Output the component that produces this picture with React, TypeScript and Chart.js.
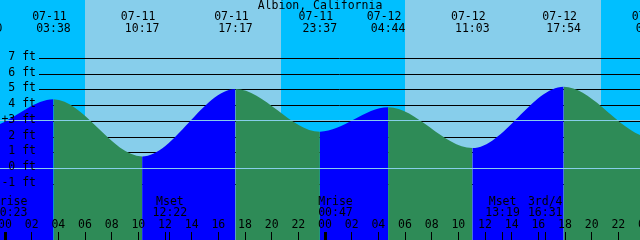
import React, { useEffect, useRef } from "react";
import { Chart, registerables } from "chart.js";

Chart.register(...registerables);

// ---- data ----
const TITLE = "Albion, California";

// tide extremes (date, time, height in ft)
const tideDates = ["07-10", "07-10", "07-11", "07-11", "07-11", "07-11", "07-12", "07-12", "07-12", "07-13", "07-13"];
const tideTimes = ["16:40", "22:30", "03:38", "10:17", "17:17", "23:37", "04:44", "11:03", "17:54", "00:36", "05:50"];
const tideHeights = [5.0, 2.61, 4.4, 0.77, 5.06, 2.34, 3.89, 1.3, 5.21, 1.95, 3.6];

// sun
const sunDates = ["07-11", "07-12"];
const sunrises = ["06:00", "06:00"];
const sunsets = ["20:42", "20:42"];

// moon events
const eventDates = ["07-11", "07-11", "07-12", "07-12", "07-12"];
const eventTimes = ["00:23", "12:22", "00:47", "13:19", "16:31"];
const eventNames = ["Mrise", "Mset", "Mrise", "Mset", "3rd/4"];
const eventTicks = [false, true, false, true, true];

// axis ticks
const ftTicks = [-1, 0, 1, 2, 3, 4, 5, 6, 7];
const ftTickLabels = ["-1 ft", "0 ft", "1 ft", "2 ft", "+3 ft", "4 ft", "5 ft", "6 ft", "7 ft"];
const hourTickHours = [0, 2, 4, 6, 8, 10, 12, 14, 16, 18, 20, 22];
const hourTickLabels = ["00", "02", "04", "06", "08", "10", "12", "14", "16", "18", "20", "22"];
const tickDays = [0, 1, 2];

const MSL = 3.05;
const DATUM = 0;

// view window (hours since 07-11 00:00) and ft range
const X_MIN = -0.375;
const X_MAX = 47.625;
const Y_MIN = -4.55;
const Y_MAX = 10.723;

// colours
const NIGHT = "#00bfff";
const DAY = "#87ceeb";
const RISING = "#0000ff";
const FALLING = "#2e8b57";
const LIGHT_LINE = "#87ceeb";

const toHours = (date: string, time: string) => {
  const day = parseInt(date.slice(3), 10) - 11;
  const [h, m] = time.split(":").map(Number);
  return day * 24 + h + m / 60;
};

export default function App() {
  const ref = useRef<HTMLCanvasElement>(null);

  useEffect(() => {
    document.body.style.margin = "0";
    const canvas = ref.current!;
    const FONT = '11.5px "DejaVu Sans Mono", monospace';
    const points = tideDates.map((d, i) => ({ x: toHours(d, tideTimes[i]), y: tideHeights[i] }));

    const decor = {
      id: "tideDecor",
      beforeDraw(chart: any) {
        const { ctx } = chart;
        const x = chart.scales.x;
        const y = chart.scales.y;
        ctx.save();
        ctx.fillStyle = NIGHT;
        ctx.fillRect(0, 0, chart.width, chart.height);
        ctx.fillStyle = DAY;
        sunDates.forEach((d, i) => {
          const x0 = Math.round(x.getPixelForValue(toHours(d, sunrises[i])));
          const x1 = Math.round(x.getPixelForValue(toHours(d, sunsets[i])));
          ctx.fillRect(x0, 0, x1 - x0, chart.height);
        });
        ctx.strokeStyle = "#000";
        ctx.lineWidth = 1;
        ftTicks.forEach((v) => {
          const py = Math.round(y.getPixelForValue(v) - 0.5) + 0.5;
          ctx.beginPath();
          ctx.moveTo(39, py);
          ctx.lineTo(chart.width, py);
          ctx.stroke();
        });
        ctx.restore();
      },
      afterDatasetsDraw(chart: any) {
        const { ctx } = chart;
        const x = chart.scales.x;
        const y = chart.scales.y;
        ctx.save();
        // MSL & datum lines
        ctx.strokeStyle = LIGHT_LINE;
        ctx.lineWidth = 1;
        [MSL, DATUM].forEach((v) => {
          const py = Math.round(y.getPixelForValue(v) - 0.5) + 0.5;
          ctx.beginPath();
          ctx.moveTo(0, py);
          ctx.lineTo(chart.width, py);
          ctx.stroke();
        });

        ctx.fillStyle = "#000";
        ctx.font = FONT;
        ctx.textBaseline = "middle";

        // title
        ctx.textAlign = "center";
        ctx.fillText(TITLE, 320, 6);

        // tide extreme labels
        tideDates.forEach((d, i) => {
          const px = x.getPixelForValue(toHours(d, tideTimes[i]));
          ctx.fillText(d, px - 4, 17.5);
          ctx.fillText(tideTimes[i], px, 29);
        });

        // ft labels
        ctx.textAlign = "right";
        ftTicks.forEach((v, i) => {
          const py = y.getPixelForValue(v);
          ctx.fillText(ftTickLabels[i], 36, py - 1.5);
        });

        // moon events
        ctx.textAlign = "center";
        eventDates.forEach((d, i) => {
          const px = x.getPixelForValue(toHours(d, eventTimes[i]));
          ctx.fillText(eventNames[i], px, 202);
          ctx.fillText(eventTimes[i], px, 213.5);
          if (eventTicks[i]) {
            ctx.fillRect(Math.floor(px), 232, 1, 8);
          }
        });

        // hour ticks
        tickDays.forEach((day) => {
          hourTickHours.forEach((h, j) => {
            const hh = day * 24 + h;
            const px = x.getPixelForValue(hh);
            ctx.fillText(hourTickLabels[j], px, 225);
            if (h === 0) {
              ctx.fillRect(Math.floor(px) - 1, 232, 3, 8);
            } else {
              ctx.fillRect(Math.floor(px), 232, 1, 8);
            }
          });
        });
        ctx.restore();
      },
    };

    const chart = new Chart(canvas, {
      type: "line",
      data: {
        datasets: [
          {
            data: points,
            fill: "start",
            borderWidth: 0,
            borderColor: "rgba(0,0,0,0)",
            backgroundColor: FALLING,
            pointRadius: 0,
            cubicInterpolationMode: "monotone",
            segment: {
              backgroundColor: (c: any) => (c.p1.parsed.y > c.p0.parsed.y ? RISING : FALLING),
            },
          },
        ],
      },
      options: {
        responsive: false,
        animation: false,
        layout: { padding: 0 },
        scales: {
          x: { type: "linear", min: X_MIN, max: X_MAX, display: false },
          y: { type: "linear", min: Y_MIN, max: Y_MAX, display: false },
        },
        plugins: {
          legend: { display: false },
          tooltip: { enabled: false },
          title: { display: false },
        },
        events: [],
      },
      plugins: [decor],
    });
    return () => chart.destroy();
  }, []);

  return (
    <canvas
      ref={ref}
      width={640}
      height={240}
      style={{ display: "block", width: 640, height: 240 }}
    />
  );
}
